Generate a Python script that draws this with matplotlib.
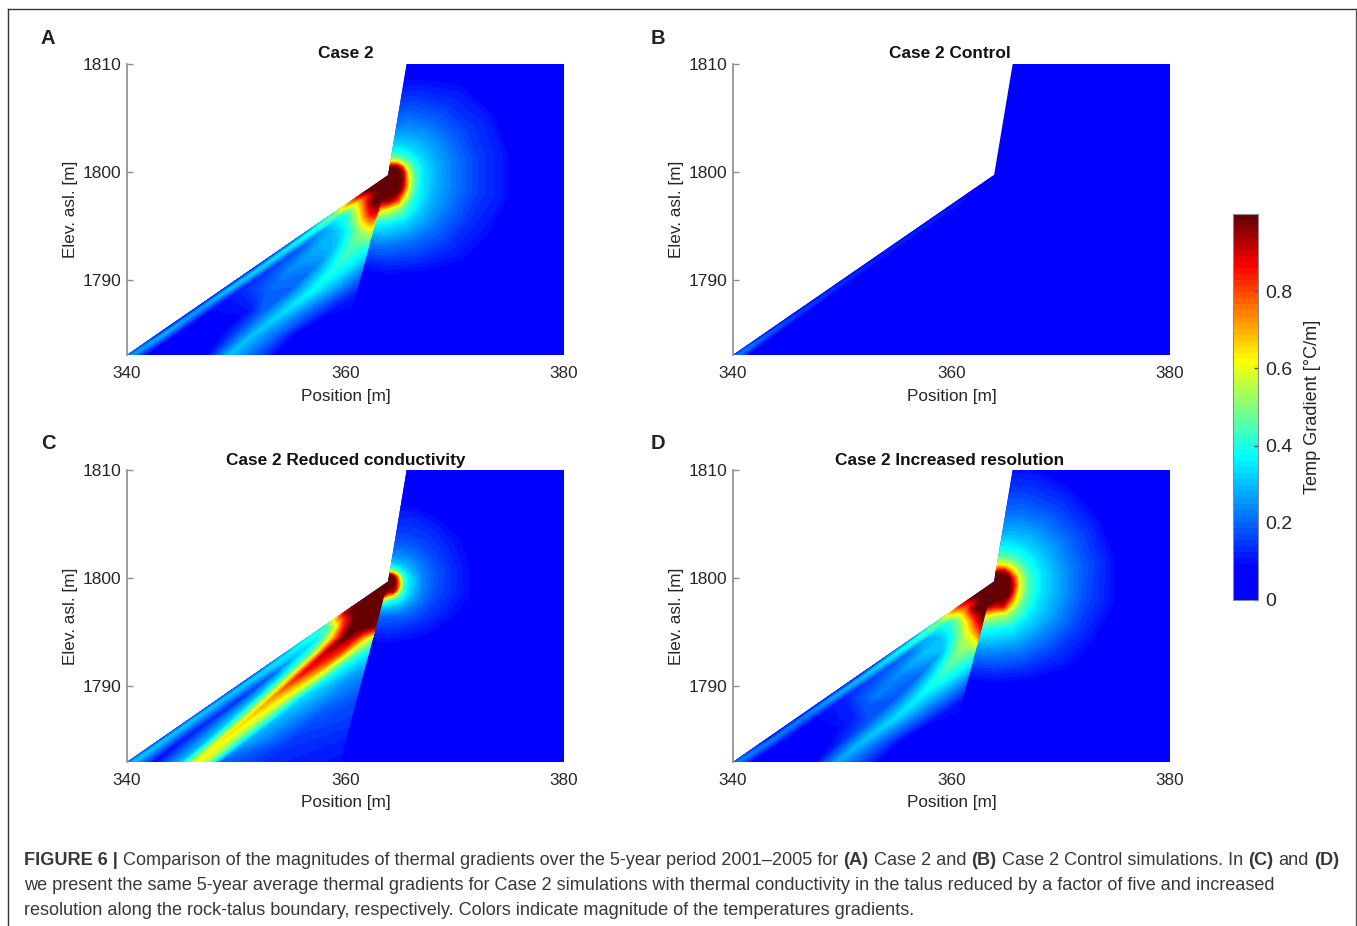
import numpy as np
from matplotlib import pyplot as plt
from matplotlib.cm import ScalarMappable
from matplotlib.colors import LinearSegmentedColormap, Normalize
from matplotlib.patches import Polygon

W, H = 1357, 926
plt.rcParams['font.family'] = ['Liberation Sans', 'DejaVu Sans']

# model outline: ground surface kink, top of cliff, rock/talus boundary
kink_x, kink_y = 363.9, 1799.7
domain_x = [340, 363.9, 365.6, 380, 380, 340]
domain_y = [1783, 1799.7, 1810, 1810, 1783, 1783]
talus_x = [340, 363.9, 359.5]
talus_y = [1783, 1799.7, 1783]
rock_x = [363.9, 365.6, 380, 380, 359.5]
rock_y = [1799.7, 1810, 1810, 1783, 1783]

x_ticks = [340, 360, 380]
y_ticks = [1790, 1800, 1810]
bar_ticks = [0, 0.2, 0.4, 0.6, 0.8]

titles = ['Case 2', 'Case 2 Control', 'Case 2 Reduced conductivity', 'Case 2 Increased resolution']
letters = ['A', 'B', 'C', 'D']

# halo in the rock, read along rays leaving the kink
halo_radius = [0.05, 0.6, 1.0, 1.4, 1.8, 2.4, 3.2, 4.5, 6.5, 8.5, 10.5, 12]
halo_angle = [85, 70, 50, 30, 10, -10, -30, -50, -70, -90, -110]

# Case 2, talus: one row per elevation, x positions and gradients
a_talus_y = [1783, 1785, 1787, 1789, 1791, 1793, 1794.5, 1796, 1797.2, 1798.3, 1800]
a_talus_x = [
    [339.8, 340.5, 342, 345, 347.5, 349.3, 351.5, 354, 359.8],
    [342.7, 343.5, 344.5, 348, 349.8, 351.7, 353.8, 356, 360.3],
    [345.5, 346.3, 347.5, 351, 352.5, 354.4, 356.2, 358.5, 360.8],
    [348.4, 349.2, 350.2, 353, 355, 357, 358.8, 360.3, 361.3],
    [351.3, 352.1, 353.1, 355, 357, 359, 360.3, 361.2, 361.9],
    [354.1, 354.9, 355.9, 357.5, 359, 360.5, 361.3, 362, 362.4],
    [356.2, 357, 357.8, 359, 360, 361.2, 361.8, 362.3, 362.8],
    [358.4, 359, 359.6, 360.3, 361, 361.8, 362.3, 362.7, 363.2],
    [360.1, 360.5, 361, 361.4, 361.8, 362.2, 362.6, 363, 363.5],
    [361.7, 362, 362.3, 362.6, 362.9, 363.1, 363.3, 363.5, 363.8],
    [363.6, 363.7, 363.8, 363.9, 364, 364.1, 364.2, 364.3, 364.4],
]
a_talus_v = [
    [.15, .25, .05, .03, .1, .3, .2, .06, 0],
    [.05, .28, .1, .05, .15, .3, .2, .05, 0],
    [.05, .25, .09, .1, .2, .33, .22, .1, .08],
    [.05, .3, .12, .2, .2, .37, .26, .17, .12],
    [.06, .32, .15, .24, .22, .4, .34, .28, .22],
    [.08, .35, .18, .28, .3, .45, .42, .4, .35],
    [.12, .4, .25, .3, .35, .5, .55, .58, .5],
    [.3, .5, .4, .42, .55, .75, .85, .85, .6],
    [.65, .75, .65, .7, .8, .92, 1, 1, .95],
    [1, 1, 1, 1, 1, 1, 1, 1, 1],
    [1, 1, 1, 1, 1, 1, 1, 1, 1],
]
a_halo_v = [
    [1, 1, 1, 1, 1, 1, 1, 1, 1, 1, 1],
    [.95, 1, 1, 1, 1, 1, 1, 1, 1, 1, 1],
    [.75, .85, .98, 1, 1, 1, 1, 1, 1, 1, 1],
    [.55, .6, .72, .85, .92, .95, .98, 1, 1, 1, 1],
    [.45, .46, .5, .58, .63, .68, .82, .95, 1, 1, 1],
    [.37, .38, .4, .43, .45, .47, .52, .65, .85, .95, 1],
    [.3, .31, .33, .34, .35, .35, .37, .42, .52, .6, .8],
    [.22, .25, .27, .28, .28, .28, .29, .31, .34, .36, .42],
    [.16, .18, .2, .21, .21, .21, .21, .21, .21, .22, .24],
    [.1, .12, .14, .15, .15, .15, .14, .14, .13, .12, .12],
    [.05, .06, .1, .115, .115, .115, .1, .09, .05, .04, .04],
    [0, 0, 0, .06, .06, .06, .02, 0, 0, 0, 0],
]

# Case 2 Control: only a faint line under the surface
b_talus_y = [1783, 1787, 1792, 1797, 1800]
b_talus_x = [
    [339.8, 340.5, 341.5, 360],
    [345.5, 346.2, 347.2, 360.5],
    [352.6, 353.3, 354.3, 362],
    [359.8, 360.5, 361.5, 363],
    [363.8, 364, 364.1, 364.2],
]
b_talus_v = [
    [.1, .22, .05, 0],
    [.05, .15, .04, 0],
    [.05, .12, .04, 0],
    [.05, .12, 0, 0],
    [0, 0, 0, 0],
]

# Case 2 Reduced conductivity
c_talus_y = [1783, 1785, 1787, 1789, 1791, 1793, 1794.5, 1795.5, 1796.8, 1798.3, 1800]
c_talus_x = [
    [339.8, 340.6, 342.5, 345, 346.4, 347.4, 348.5, 353, 359.8],
    [342.7, 343.4, 345, 347.4, 348.7, 349.8, 351, 355, 360.3],
    [345.5, 346.2, 347.8, 349.7, 351.1, 352.2, 353.6, 357, 360.8],
    [348.4, 349.1, 350.6, 352, 353.4, 354.6, 356, 359, 361.3],
    [351.3, 352, 353.2, 354.4, 355.8, 357.2, 358.6, 360.5, 361.9],
    [354.1, 354.8, 355.7, 356.8, 358.1, 359.4, 360.6, 361.6, 362.4],
    [356.2, 356.8, 357.6, 358.6, 359.9, 360.8, 361.6, 362.2, 362.8],
    [357.9, 358.4, 359, 359.7, 360.5, 361.3, 362, 362.6, 363.1],
    [359.7, 360.1, 360.5, 361, 361.5, 362, 362.5, 363, 363.5],
    [361.7, 362, 362.3, 362.6, 362.9, 363.1, 363.3, 363.5, 363.8],
    [363.6, 363.7, 363.8, 363.9, 364, 364.1, 364.2, 364.3, 364.4],
]
c_talus_v = [
    [.15, .3, .08, .3, .62, .52, .2, .13, .1],
    [.1, .3, .1, .3, .64, .52, .28, .15, .12],
    [.1, .3, .12, .32, .66, .55, .3, .18, .15],
    [.1, .3, .13, .33, .72, .6, .33, .22, .17],
    [.12, .32, .18, .38, .85, .66, .38, .26, .23],
    [.2, .35, .3, .45, .92, .8, .5, .38, .33],
    [.3, .4, .35, .6, 1, .9, .72, .6, .5],
    [.35, .45, .55, .8, 1, 1, 1, .97, .9],
    [.8, .95, 1, 1, 1, 1, 1, 1, 1],
    [1, 1, 1, 1, 1, 1, 1, 1, 1],
    [1, 1, 1, 1, 1, 1, 1, 1, 1],
]
c_halo_v = [
    [1, 1, 1, 1, 1, 1, 1, 1, 1, 1, 1],
    [.9, 1, 1, 1, 1, 1, 1, 1, 1, 1, 1],
    [.5, .55, .6, .7, .7, .75, .8, .9, .95, .9, 1],
    [.38, .38, .4, .42, .45, .45, .5, .55, .6, .65, .9],
    [.3, .3, .32, .34, .36, .36, .38, .4, .4, .42, .6],
    [.25, .25, .27, .28, .3, .3, .3, .3, .3, .3, .35],
    [.2, .21, .22, .23, .23, .23, .23, .22, .21, .2, .22],
    [.15, .16, .17, .17, .18, .17, .16, .15, .14, .14, .15],
    [.11, .12, .12, .12, .12, .12, .1, .08, .06, .06, .06],
    [.05, .05, .06, .07, .07, .07, .05, .02, 0, 0, 0],
    [0, 0, 0, 0, 0, 0, 0, 0, 0, 0, 0],
    [0, 0, 0, 0, 0, 0, 0, 0, 0, 0, 0],
]

# Case 2 Increased resolution
d_talus_y = [1783, 1785, 1787, 1789, 1791, 1793, 1794.5, 1796, 1797.2, 1798.3, 1800]
d_talus_x = [
    [339.8, 340.5, 342, 345, 347.5, 349.5, 351.5, 354, 359.8],
    [342.7, 343.5, 344.5, 348, 350, 352, 354, 356, 360.3],
    [345.5, 346.3, 347.5, 351, 353, 354.8, 356.5, 358.5, 360.8],
    [348.4, 349.2, 350.2, 353, 355, 357, 358.8, 360.3, 361.3],
    [351.3, 352.1, 353.1, 355, 357, 359, 360.3, 361.2, 361.9],
    [354.1, 354.9, 355.9, 357.5, 359, 360.5, 361.3, 362, 362.5],
    [356.2, 357, 357.8, 359, 360, 361.2, 361.8, 362.4, 362.9],
    [358.4, 359, 359.6, 360.3, 361, 361.8, 362.3, 362.8, 363.3],
    [360.1, 360.5, 361, 361.4, 361.8, 362.2, 362.6, 363, 363.5],
    [361.7, 362, 362.3, 362.6, 362.9, 363.1, 363.3, 363.5, 363.8],
    [363.6, 363.7, 363.8, 363.9, 364, 364.1, 364.2, 364.3, 364.4],
]
d_talus_v = [
    [.15, .22, .05, .03, .08, .27, .18, .05, 0],
    [.05, .22, .1, .05, .13, .3, .18, .05, 0],
    [.05, .22, .09, .12, .2, .33, .22, .1, .08],
    [.05, .27, .12, .22, .18, .36, .26, .17, .11],
    [.06, .3, .16, .24, .2, .42, .36, .29, .22],
    [.1, .36, .2, .3, .28, .5, .47, .44, .42],
    [.15, .42, .28, .3, .38, .55, .6, .7, .85],
    [.35, .5, .42, .45, .55, .72, .85, .95, .98],
    [.65, .78, .75, .78, .9, 1, 1, 1, 1],
    [1, 1, 1, 1, 1, 1, 1, 1, 1],
    [1, 1, 1, 1, 1, 1, 1, 1, 1],
]
d_halo_v = [
    [1, 1, 1, 1, 1, 1, 1, 1, 1, 1, 1],
    [.98, 1, 1, 1, 1, 1, 1, 1, 1, 1, 1],
    [.8, .9, 1, 1, 1, 1, 1, 1, 1, 1, 1],
    [.65, .72, .85, .93, 1, 1, 1, 1, 1, 1, 1],
    [.55, .58, .65, .72, .82, .88, .95, 1, 1, 1, 1],
    [.45, .46, .5, .54, .58, .6, .65, .75, .9, .85, 1],
    [.37, .38, .4, .42, .43, .44, .46, .5, .55, .55, .7],
    [.28, .3, .32, .33, .34, .34, .34, .35, .37, .37, .42],
    [.2, .22, .24, .25, .25, .25, .25, .24, .24, .24, .26],
    [.15, .16, .17, .18, .18, .17, .16, .15, .14, .13, .14],
    [.1, .11, .115, .12, .12, .115, .1, .09, .05, .04, .04],
    [.02, .06, .06, .06, .06, .06, .02, 0, 0, 0, 0],
]

talus_rows = [a_talus_y, b_talus_y, c_talus_y, d_talus_y]
talus_cols = [a_talus_x, b_talus_x, c_talus_x, d_talus_x]
talus_vals = [a_talus_v, b_talus_v, c_talus_v, d_talus_v]
halo_vals = [a_halo_v, None, c_halo_v, d_halo_v]

caption_lines = [
    [('FIGURE 6 |', 'bold'), ('Comparison of the magnitudes of thermal gradients over the 5-year period 2001–2005 for', 'normal'),
     ('(A)', 'bold'), ('Case 2 and', 'normal'), ('(B)', 'bold'), ('Case 2 Control simulations. In', 'normal'),
     ('(C)', 'bold'), ('and', 'normal'), ('(D)', 'bold')],
    [('we present the same 5-year average thermal gradients for Case 2 simulations with thermal conductivity in the talus reduced by a factor of five and increased', 'normal')],
    [('resolution along the rock-talus boundary, respectively. Colors indicate magnitude of the temperatures gradients.', 'normal')],
]

# jet that starts at pure blue, 64 steps like the figure
nodes = [(0, (0, 0, 1)), (.08, (0, 0, 1)), (.37, (0, 1, 1)), (.625, (1, 1, 0)), (.87, (1, 0, 0)), (1, (.4, 0, 0))]
cmap = LinearSegmentedColormap.from_list('temp', nodes, N=64)
norm = Normalize(0, 1)
levels = np.linspace(0, 1, 65)


def px_rect(left, top, right, bottom):
    return [left / W, 1 - bottom / H, (right - left) / W, (bottom - top) / H]


def clipped_contour(ax, x, y, v, clip_x, clip_y):
    cs = ax.contourf(x, y, v, levels=levels, cmap=cmap, norm=norm, extend='both')
    cs.set_clip_path(Polygon(np.column_stack([clip_x, clip_y]), transform=ax.transData))


fig = plt.figure(figsize=(W / 100, H / 100), dpi=100)
boxes = [(127, 64, 564, 355), (733, 64, 1170, 355), (127, 470, 564, 762), (733, 470, 1170, 762)]
letter_xy = [(48, 38.5), (658, 38.5), (48, 444), (658, 444)]
title_x = [345.5, 949.5, 345.5, 949.5]
label_y = [396.5, 396.5, 802.5, 802.5]
text_col = '#262626'

rr, aa = np.meshgrid(halo_radius, np.radians(halo_angle), indexing='ij')
halo_x = kink_x + rr * np.cos(aa)
halo_y = kink_y + rr * np.sin(aa)

for i in range(4):
    ax = fig.add_axes(px_rect(*boxes[i]))
    ax.fill(domain_x, domain_y, color=cmap(0), lw=0)
    if halo_vals[i] is not None:
        clipped_contour(ax, halo_x, halo_y, np.array(halo_vals[i]), rock_x, rock_y)
    tx = np.array(talus_cols[i])
    ty = np.tile(np.array(talus_rows[i])[:, None], (1, tx.shape[1]))
    clipped_contour(ax, tx, ty, np.array(talus_vals[i]), talus_x, talus_y)

    ax.set_xlim(340, 380)
    ax.set_ylim(1783, 1810)
    ax.set_xticks(x_ticks)
    ax.set_yticks(y_ticks)
    ax.tick_params(axis='x', length=0, labelsize=12.3, labelcolor=text_col, pad=8)
    ax.tick_params(axis='y', direction='in', length=4, width=1, color='#8c8c8c', labelsize=12.5, labelcolor=text_col, pad=4)
    ax.spines['top'].set_visible(False)
    ax.spines['right'].set_visible(False)
    ax.spines['bottom'].set_visible(False)
    ax.spines['left'].set_color('#8c8c8c')
    ax.spines['left'].set_linewidth(1.2)
    left, top, right, bottom = boxes[i]
    fig.text((left + right) / 2 / W, 1 - label_y[i] / H, 'Position [m]', ha='center', va='center', fontsize=12.3, color=text_col)
    fig.text((left - 57) / W, 1 - (top + bottom) / 2 / H, 'Elev. asl. [m]', ha='center', va='center', rotation=90, fontsize=12.3, color=text_col)
    fig.text(title_x[i] / W, 1 - (top - 10) / H, titles[i], ha='center', va='center', fontsize=12.4, fontweight='bold', color='#111111')
    fig.text(letter_xy[i][0] / W, 1 - letter_xy[i][1] / H, letters[i], ha='center', va='center', fontsize=14.5, fontweight='bold', color='#222222')

# colorbar
cax = fig.add_axes(px_rect(1233, 214, 1258, 600))
cb = fig.colorbar(ScalarMappable(norm=norm, cmap=cmap), cax=cax, ticks=bar_ticks)
cb.ax.set_yticklabels(['0', '0.2', '0.4', '0.6', '0.8'])
cb.ax.tick_params(direction='in', length=3, width=1, color='#555555', labelsize=14, labelcolor=text_col, pad=5.5)
cb.outline.set_edgecolor('#8c8c8c')
fig.text(1312.5 / W, 1 - 407 / H, 'Temp Gradient [°C/m]', rotation=90, ha='center', va='center', fontsize=13.1, color=text_col)

# caption, pieces laid end to end
fig.canvas.draw()
renderer = fig.canvas.get_renderer()
line_y = [860.5, 885.5, 910.5]
for segs, y in zip(caption_lines, line_y):
    x = 24
    for seg, weight in segs:
        t = fig.text(x / W, 1 - y / H, seg, ha='left', va='center', fontsize=13.05, fontweight=weight, color='#383838')
        x += t.get_window_extent(renderer).width + 5.2

# frame round the figure, open at the bottom
fig.add_artist(plt.Line2D([7.5 / W, 7.5 / W], [0, 1 - 9 / H], color='#333333', lw=1))
fig.add_artist(plt.Line2D([7.5 / W, 1355.5 / W], [1 - 9 / H, 1 - 9 / H], color='#333333', lw=1))
fig.add_artist(plt.Line2D([1355.5 / W, 1355.5 / W], [0, 1 - 9 / H], color='#555555', lw=1))

fig.savefig('out.png', dpi=100)
